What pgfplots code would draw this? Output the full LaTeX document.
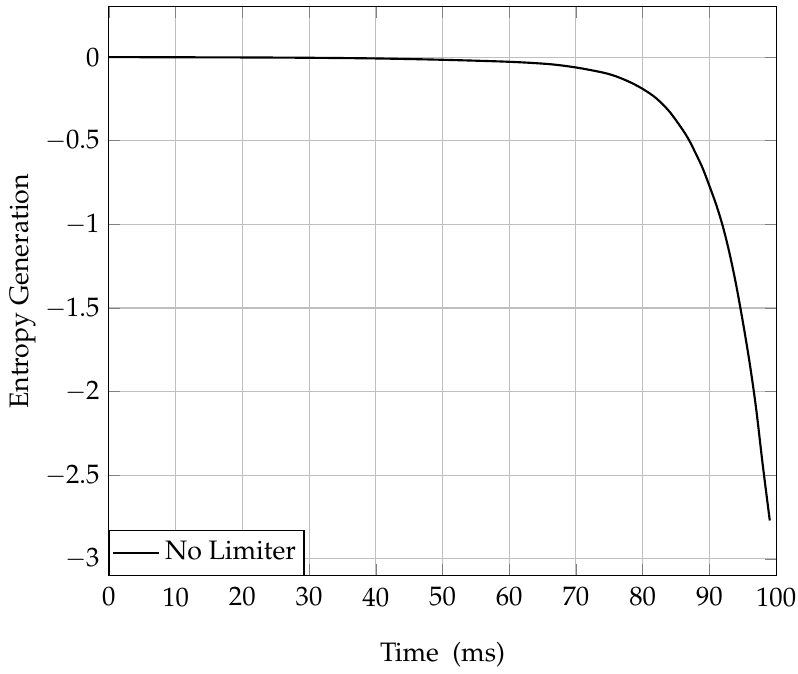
\documentclass[border=0pt]{standalone}
\usepackage[T1]{fontenc}
\usepackage{mathpazo}
\DeclareSymbolFont{cmsymbols}{OMS}{cmsy}{m}{n}
\DeclareMathSymbol{-}{\mathbin}{cmsymbols}{"00}
\usepackage{pgfplots}
\pgfplotsset{compat=1.18}
\begin{document}
\begin{tikzpicture}
\begin{axis}[
  name=ax,
  scale only axis,
  width=250pt, height=213.1pt,
  xmin=0, xmax=100,
  ymin=-3.1, ymax=0.3,
  xtick={0,10,...,100},
  ytick={-3,-2.5,-2,-1.5,-1,-0.5,0},
  grid=major,
  xticklabel style={yshift=-1pt},
  xlabel={Time\hspace{5pt}(ms)},
  ylabel={Entropy Generation},
  xlabel style={yshift=-6.5pt},
  ylabel style={yshift=-3.2pt},
  legend style={at={(0,0)}, anchor=south west, inner xsep=1pt, inner ysep=2.2pt},
  legend cell align=left,
]
\addplot[black, thick, smooth] coordinates {
(0,0) (10,-0.001) (20,-0.002) (30,-0.004) (40,-0.008) (50,-0.016)
(60,-0.028) (66,-0.042) (70,-0.062) (74,-0.092) (76,-0.115) (78,-0.148)
(80,-0.19) (82,-0.245) (84,-0.325) (86,-0.435) (87,-0.5) (88,-0.58) (89,-0.665)
(90,-0.77) (91,-0.88) (92,-1.01) (93,-1.17) (94,-1.36) (95,-1.58)
(96,-1.82) (97,-2.1) (98,-2.44) (99.05,-2.77)
};
\addlegendentry{No Limiter}
\end{axis}
\pgfresetboundingbox
\useasboundingbox ([xshift=-40.8pt,yshift=-36.7pt]ax.south west) rectangle ([xshift=8.2pt,yshift=2.6pt]ax.north east);
\end{tikzpicture}
\end{document}
